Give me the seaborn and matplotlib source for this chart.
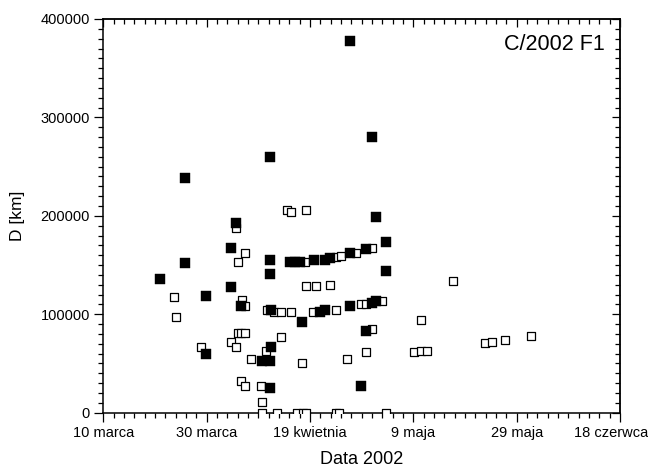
import numpy as np
import pandas as pd
import matplotlib
matplotlib.use("Agg")
import matplotlib.pyplot as plt
import matplotlib.dates as mdates
import matplotlib.transforms as mtransforms
import seaborn as sns

# Observation times as day-of-year 2002 (fractional), distances D in km
filled_doy = [116.75, 120.94, 101.26, 84.75, 121.78, 94.74, 123.65, 93.71,
              101.26, 101.26, 84.75, 79.97, 93.71, 88.84, 95.59,
              105.13, 106.10, 107.07, 109.84, 111.91, 112.97, 116.75, 119.84,
              123.65, 101.46, 110.94, 112.00, 116.75, 120.94, 121.78,
              107.46, 119.84, 88.84, 101.46, 99.66, 101.26, 101.26, 118.82]
filled_D = [377600, 280100, 260100, 238100, 198500, 193200, 173400, 167800,
            155100, 140900, 151800, 135500, 128000, 118900, 108400,
            153400, 153400, 153400, 155100, 155100, 156900, 162000, 166000,
            144300, 104300, 102600, 104300, 108400, 111800, 113800,
            91700, 83200, 59400, 66400, 52300, 52300, 25400, 27100]

open_doy = [104.49, 105.33, 108.17, 94.68, 96.42, 95.01, 108.04, 114.04,
            115.00, 117.91, 121.00, 108.17, 110.11, 112.93, 82.68, 95.79,
            96.52, 83.07, 100.59, 102.13, 103.39, 105.42, 109.49, 114.04,
            118.78, 119.84, 123.00, 95.01, 95.71, 96.48, 103.39, 121.00,
            93.66, 94.74, 87.85, 100.49, 97.53, 107.46, 116.07, 119.84,
            95.59, 96.42, 99.52, 99.66,
            99.66, 102.68, 106.43, 107.71, 108.17, 114.13, 114.71, 123.74,
            136.74, 130.49, 129.19, 130.43, 131.59, 142.87, 144.29, 146.69,
            151.83]
open_D = [205800, 204200, 206000, 188000, 162600, 153400, 153400, 158500,
          159000, 162600, 167800, 128400, 128400, 129700, 117300, 114000,
          108400, 97500, 104300, 102600, 102600, 102600, 102600, 104300,
          110100, 110100, 113800, 81300, 81300, 81300, 77200, 84700,
          72100, 67100, 67100, 62900, 54300, 50800, 54300, 61400,
          32400, 27300, 27100, 11100,
          0, 0, 0, 0, 0, 0, 0, 0,
          133800, 94200, 61400, 62700, 63000, 70500, 72100, 74200,
          77600]

tick_dates = ["2002-03-10", "2002-03-30", "2002-04-19", "2002-05-09",
              "2002-05-29", "2002-06-18"]
tick_labels = ["10 marca", "30 marca", "19 kwietnia", "9 maja",
               "29 maja", "18 czerwca"]
y_ticks = [0, 100000, 200000, 300000, 400000]


def doy_to_date(doy):
    return pd.Timestamp("2002-01-01") + pd.to_timedelta(np.asarray(doy) - 1, unit="D")


filled = pd.DataFrame({"date": doy_to_date(filled_doy), "D": filled_D})
empty = pd.DataFrame({"date": doy_to_date(open_doy), "D": open_D})

sns.set_theme(style="white")
plt.rcParams["font.family"] = ["Liberation Sans", "DejaVu Sans"]

fig = plt.figure(figsize=(6.48, 4.70), dpi=100)
ax = fig.add_axes([103.3 / 648, 1 - 412.7 / 470, (620 - 103.3) / 648, (412.7 - 19) / 470])

sns.scatterplot(data=empty, x="date", y="D", ax=ax, marker="s", s=34,
                facecolor="white", edgecolor="black", linewidth=0.9, zorder=3)
sns.scatterplot(data=filled, x="date", y="D", ax=ax, marker="s", s=44,
                color="black", edgecolor="black", linewidth=0.3, zorder=4)

major = mdates.date2num(pd.to_datetime(tick_dates))
minor = np.arange(major[0], major[-1] + 0.5, 2.0)

ax.set_xlim(major[0], major[-1])
ax.set_ylim(0, 400000)
ax.set_xticks(major)
ax.set_xticklabels(tick_labels)
ax.set_xticks(minor, minor=True)
ax.set_yticks(y_ticks)
ax.set_yticklabels([str(v) for v in y_ticks])
ax.set_yticks(np.arange(0, 400001, 10000), minor=True)

for sp in ax.spines.values():
    sp.set_linewidth(1.1)
    sp.set_color("black")

ax.tick_params(axis="both", which="both", direction="out", color="black",
               labelsize=10.5, labelcolor="black", width=0.9,
               bottom=True, left=True, top=False, right=False)
ax.tick_params(axis="both", which="major", length=6.5, pad=3)
ax.tick_params(axis="both", which="minor", length=3.6)

# keep the last date label inside the canvas
last = ax.get_xticklabels()[-1]
last.set_transform(last.get_transform() +
                   mtransforms.ScaledTranslation(-0.09, 0, fig.dpi_scale_trans))

# inward ticks on the top and right edges
top = ax.secondary_xaxis("top")
top.set_xticks(major)
top.set_xticks(minor, minor=True)
top.tick_params(which="both", direction="in", labeltop=False, width=0.9, color="black")
top.tick_params(which="major", length=6)
top.tick_params(which="minor", length=3.6)
top.spines["top"].set_linewidth(1.1)

right = ax.secondary_yaxis("right")
right.set_yticks(y_ticks)
right.set_yticks(np.arange(0, 400001, 10000), minor=True)
right.tick_params(which="both", direction="in", labelright=False, width=0.9, color="black")
right.tick_params(which="major", length=6)
right.tick_params(which="minor", length=3.6)
right.spines["right"].set_linewidth(1.1)

ax.set_xlabel("Data 2002", fontsize=13, color="black", labelpad=8)
ax.set_ylabel("D [km]", fontsize=12.5, color="black", labelpad=11)

ax.text(0.97, 0.935, "C/2002 F1", transform=ax.transAxes, ha="right", va="center",
        fontsize=15.5, color="black")

fig.savefig("out.png", dpi=100)
